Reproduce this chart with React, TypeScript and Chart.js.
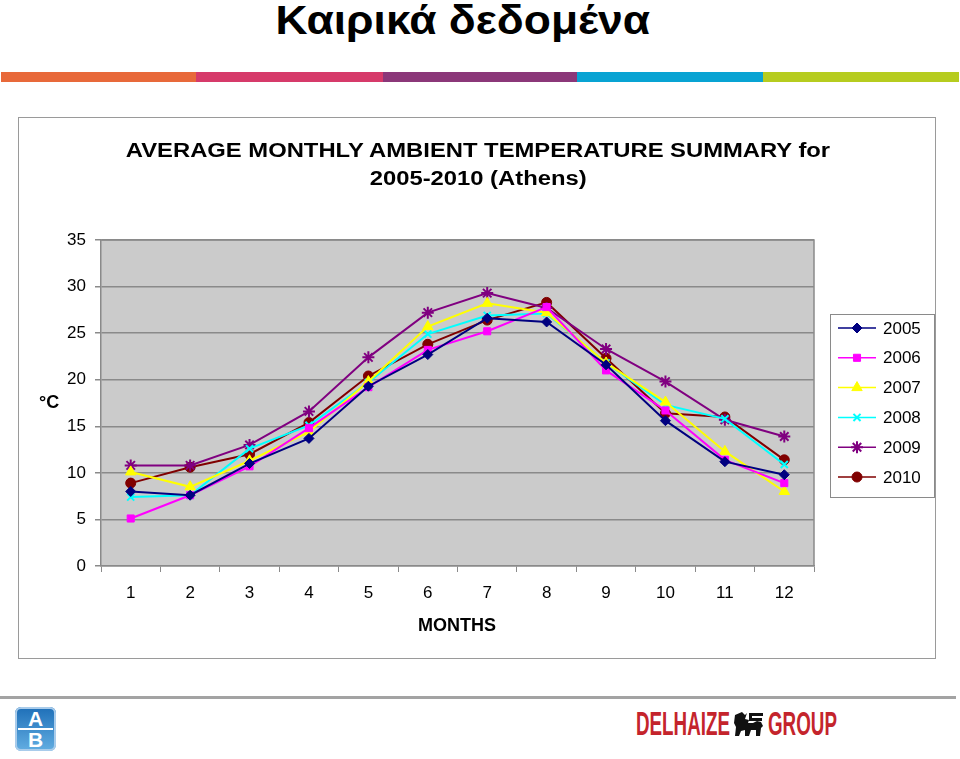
import React, { useEffect, useRef } from 'react';
import { Chart, registerables } from 'chart.js';
import { drawPoint } from 'chart.js/helpers';

Chart.register(...registerables);

const months = ['1', '2', '3', '4', '5', '6', '7', '8', '9', '10', '11', '12'];
const yTicks = [0, 5, 10, 15, 20, 25, 30, 35];

const years = ['2005', '2006', '2007', '2008', '2009', '2010'];
const t2005 = [8.0, 7.6, 11.0, 13.7, 19.3, 22.7, 26.6, 26.2, 21.6, 15.6, 11.2, 9.8];
const t2006 = [5.1, 7.6, 10.7, 14.8, 19.2, 23.2, 25.2, 27.8, 21.0, 16.7, 11.4, 8.9];
const t2007 = [10.1, 8.5, 11.3, 14.4, 19.8, 25.7, 28.2, 27.2, 21.8, 17.6, 12.3, 8.0];
const t2008 = [7.4, 7.6, 12.6, 15.1, 19.7, 24.9, 26.9, 27.1, 21.8, 17.3, 15.8, 10.9];
const t2009 = [10.8, 10.8, 13.0, 16.6, 22.4, 27.2, 29.3, 27.7, 23.3, 19.8, 15.7, 13.9];
const t2010 = [8.9, 10.6, 12.0, 15.4, 20.4, 23.8, 26.4, 28.3, 22.3, 16.4, 16.0, 11.4];

const seriesValues = [t2005, t2006, t2007, t2008, t2009, t2010];
const seriesColors = ['#000080', '#FF00FF', '#FFFF00', '#00FFFF', '#800080', '#800000'];
const seriesMarkers = ['rectRot', 'rect', 'triangle', 'crossRot', 'star', 'circle'];

const FONT = '"Liberation Sans", Arial, Helvetica, sans-serif';

const plotBg = {
  id: 'plotBg',
  beforeDraw(chart: any) {
    const { ctx, chartArea: a } = chart;
    ctx.save();
    ctx.fillStyle = '#CBCBCB';
    ctx.fillRect(a.left, a.top, a.right - a.left, a.bottom - a.top);
    ctx.restore();
  },
  beforeDatasetsDraw(chart: any) {
    const { ctx, chartArea: a } = chart;
    ctx.save();
    ctx.strokeStyle = '#8A8A8A';
    ctx.lineWidth = 1.5;
    ctx.beginPath();
    ctx.moveTo(a.left, a.top);
    ctx.lineTo(a.right, a.top);
    ctx.lineTo(a.right, a.bottom);
    ctx.stroke();
    ctx.restore();
  },
};

const boxLegend = {
  id: 'boxLegend',
  afterDraw(chart: any) {
    const { ctx } = chart;
    const x0 = 812;
    const y0 = 197;
    const w = 104;
    const h = 183;
    ctx.save();
    ctx.fillStyle = '#FFFFFF';
    ctx.fillRect(x0, y0, w, h);
    ctx.strokeStyle = '#8A8A8A';
    ctx.lineWidth = 1;
    ctx.strokeRect(x0 + 0.5, y0 + 0.5, w, h);
    chart.data.datasets.forEach((ds: any, i: number) => {
      const y = y0 + 14 + i * 29.8;
      ctx.strokeStyle = ds.borderColor;
      ctx.lineWidth = 1.5;
      ctx.beginPath();
      ctx.moveTo(x0 + 8, y);
      ctx.lineTo(x0 + 46, y);
      ctx.stroke();
      ctx.fillStyle = ds.backgroundColor;
      ctx.strokeStyle = ds.borderColor;
      ctx.lineWidth = ds.pointBorderWidth;
      drawPoint(ctx, { pointStyle: ds.pointStyle, rotation: 0, radius: ds.pointRadius, borderWidth: ds.pointBorderWidth }, x0 + 27, y);
      ctx.fillStyle = '#000000';
      ctx.font = `17px ${FONT}`;
      ctx.textAlign = 'left';
      ctx.textBaseline = 'middle';
      ctx.fillText(ds.label, x0 + 53, y + 1);
    });
    ctx.restore();
  },
};

function TempChart() {
  const ref = useRef<HTMLCanvasElement | null>(null);
  useEffect(() => {
    if (!ref.current) return;
    const chart = new Chart(ref.current, {
      type: 'line',
      data: {
        labels: months,
        datasets: years.map((y, i) => ({
          label: y,
          data: seriesValues[i],
          borderColor: seriesColors[i],
          backgroundColor: seriesColors[i],
          borderWidth: 2,
          pointStyle: seriesMarkers[i] as any,
          pointRadius: seriesMarkers[i] === 'triangle' || seriesMarkers[i] === 'star' ? 6 : 5,
          pointBorderWidth: seriesMarkers[i] === 'crossRot' || seriesMarkers[i] === 'star' ? 2 : 1,
          tension: 0,
          fill: false,
        })),
      },
      options: {
        animation: false,
        responsive: false,
        maintainAspectRatio: false,
        layout: { padding: { left: 43, top: 123, right: 121, bottom: 52 } },
        plugins: {
          legend: { display: false },
          tooltip: { enabled: false },
          title: { display: false },
        },
        scales: {
          x: {
            type: 'category',
            offset: true,
            afterFit: (s: any) => { s.height = 40; },
            grid: {
              offset: true,
              drawOnChartArea: false,
              drawTicks: true,
              tickLength: 6,
              color: '#8A8A8A',
            },
            border: { color: '#8A8A8A', width: 1.5 },
            ticks: { color: '#000', font: { size: 17, family: FONT }, padding: 11, maxRotation: 0 },
          },
          y: {
            min: 0,
            max: 35,
            afterFit: (s: any) => { s.width = 40; },
            afterBuildTicks: (s: any) => { s.ticks = yTicks.map((v) => ({ value: v })); },
            grid: { color: '#8A8A8A', lineWidth: 1.5, tickLength: 6, drawTicks: true },
            border: { color: '#8A8A8A', width: 1.5 },
            ticks: { color: '#000', font: { size: 17, family: FONT }, padding: 9 },
          },
        },
      },
      plugins: [plotBg, boxLegend],
    });
    return () => chart.destroy();
  }, []);
  return <canvas ref={ref} width={917} height={541} style={{ width: 917, height: 541, display: 'block' }} />;
}

function Lion() {
  return (
    <svg width="32" height="26" viewBox="0 0 32 26" style={{ position: 'absolute', left: 733, top: 711 }}>
      <path d="M2 4 L9 1 L12 4 L14 2 L12 8 L16 9 L15 12 L20 12 L24 10 L28 11 L30 15 L28 17 L27 25 L23 25 L23 19 L18 19 L16 25 L12 25 L12 19 L8 20 L6 25 L2 25 L3 16 L1 12 Z" fill="#111" />
      <rect x="16" y="2" width="14" height="3" fill="#111" />
      <rect x="16" y="2" width="3" height="7" fill="#111" />
      <rect x="16" y="7" width="13" height="3" fill="#111" />
    </svg>
  );
}

export default function App() {
  const segs = [
    { c: '#E8693A', x: 1, w: 195 },
    { c: '#D63A6A', x: 196, w: 187 },
    { c: '#8B3779', x: 383, w: 194 },
    { c: '#08A3D3', x: 577, w: 186 },
    { c: '#B6CC1F', x: 763, w: 196 },
  ];
  return (
    <div style={{ position: 'absolute', left: 0, top: 0, width: 960, height: 759, background: '#fff', overflow: 'hidden', fontFamily: FONT }}>
      <div style={{ position: 'absolute', left: 0, top: -1, width: 926, textAlign: 'center', fontSize: 40, fontWeight: 'bold', lineHeight: '42px', color: '#000' }}>
        <span style={{ display: 'inline-block', transform: 'scaleX(1.11)' }}>Καιρικά δεδομένα</span>
      </div>
      {segs.map((s, i) => (
        <div key={i} style={{ position: 'absolute', left: s.x, top: 72, width: s.w, height: 10, background: s.c }} />
      ))}
      <div style={{ position: 'absolute', left: 18, top: 117, width: 916, height: 540, border: '1px solid #9A9A9A' }} />
      <div style={{ position: 'absolute', left: 18, top: 117 }}>
        <TempChart />
      </div>
      <div style={{ position: 'absolute', left: 0, top: 136, width: 956, textAlign: 'center', fontSize: 20, fontWeight: 'bold', lineHeight: '28px', color: '#000' }}>
        <div style={{ display: 'inline-block', transform: 'scaleX(1.19)' }}>AVERAGE MONTHLY AMBIENT TEMPERATURE SUMMARY for</div>
        <br />
        <div style={{ display: 'inline-block', transform: 'scaleX(1.19)' }}>2005-2010 (Athens)</div>
      </div>
      <div style={{ position: 'absolute', left: 39, top: 391, fontSize: 18, fontWeight: 'bold', lineHeight: '22px' }}>°C</div>
      <div style={{ position: 'absolute', left: 357, top: 614, width: 200, textAlign: 'center', fontSize: 18, fontWeight: 'bold', lineHeight: '22px' }}>MONTHS</div>
      <div style={{ position: 'absolute', left: 0, top: 696, width: 956, height: 3, background: '#A3A3A3' }} />
      <div style={{ position: 'absolute', left: 15, top: 707, width: 41, height: 44, borderRadius: 6, background: 'linear-gradient(#1E6FB8, #63AEE2)', boxShadow: 'inset 0 0 0 2px #A9CCEB' }}>
        <div style={{ position: 'absolute', left: 0, top: 1, width: 41, textAlign: 'center', color: '#fff', fontWeight: 'bold', fontSize: 21, lineHeight: '21px' }}>A</div>
        <div style={{ position: 'absolute', left: 3, top: 21, width: 35, height: 2, background: '#fff' }} />
        <div style={{ position: 'absolute', left: 0, top: 22, width: 41, textAlign: 'center', color: '#fff', fontWeight: 'bold', fontSize: 21, lineHeight: '21px' }}>B</div>
      </div>
      <div style={{ position: 'absolute', left: 636, top: 705, color: '#C4242C', fontWeight: 'bold', fontSize: 34, lineHeight: '36px', transform: 'scaleX(0.553)', transformOrigin: 'left top', whiteSpace: 'nowrap' }}>DELHAIZE</div>
      <Lion />
      <div style={{ position: 'absolute', left: 768, top: 705, color: '#C4242C', fontWeight: 'bold', fontSize: 34, lineHeight: '36px', transform: 'scaleX(0.553)', transformOrigin: 'left top', whiteSpace: 'nowrap' }}>GROUP</div>
    </div>
  );
}
